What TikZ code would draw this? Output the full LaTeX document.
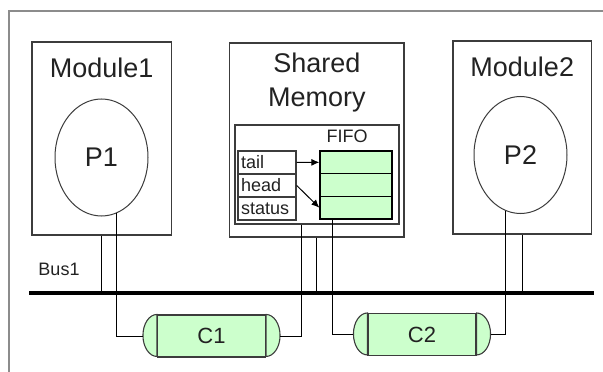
\documentclass[tikz,border=0pt]{standalone}
\usepackage{fontspec}
\setmainfont{Liberation Sans}
\usetikzlibrary{arrows.meta,shapes.geometric}
\definecolor{fifogreen}{HTML}{CCFFCC}
\definecolor{boxgray}{HTML}{3C3C3C}
\definecolor{framegray}{HTML}{8C8C8C}
\definecolor{textgray}{HTML}{222222}

\begin{document}
\begin{tikzpicture}[
    x=1pt, y=-1pt,
    text=textgray,
    module node/.style={rectangle,draw=boxgray,line width=1.1pt,fill=white,inner sep=0pt},
    title node/.style={inner sep=0pt,font=\fontsize{27}{34}\selectfont,align=center},
    process node/.style={ellipse,draw=boxgray,line width=1pt,minimum width=93pt,minimum height=117pt,
      inner sep=0pt,font=\fontsize{27}{30}\selectfont},
    pointer node/.style={rectangle,draw=boxgray,line width=1.4pt,minimum width=58pt,minimum height=23pt,
      inner sep=2pt,text width=52pt,align=left,font=\fontsize{18}{20}\selectfont},
    cell node/.style={rectangle,draw=black,line width=1.3pt,fill=fifogreen,minimum width=72pt,
      minimum height=22.7pt,inner sep=0pt},
    channel node/.style={rectangle,draw=boxgray,line width=1.1pt,fill=fifogreen,minimum width=108pt,
      minimum height=42pt,inner sep=0pt,font=\fontsize{22}{24}\selectfont},
    channel end/.style={draw=boxgray,line width=1.1pt,fill=fifogreen},
    wire/.style={draw=black,line width=1pt},
    ptr/.style={draw=black,line width=1pt,-{Latex[length=8pt,width=7pt]}},
    bus line/.style={draw=black,line width=3.5pt}]

  \useasboundingbox (0,0) rectangle (603,372);
  \draw[framegray,line width=2pt] (8.5,372) -- (8.5,11) -- (603,11);

  % modules and shared memory
  \node[module node,minimum width=139.5pt,minimum height=193pt] (mod1) at (101.75,138.5) {};
  \node[module node,minimum width=174.4pt,minimum height=194pt] (shm) at (316.8,140) {};
  \node[module node,minimum width=138.5pt,minimum height=193pt] (mod2) at (522.25,137.5) {};
  \node[title node] (mod1title) at (101.75,68) {Module1};
  \node[title node] (shmtitle) at (316.8,83) {Shared\\Memory};
  \node[title node] (mod2title) at (522.25,67) {Module2};

  \node[process node] (p1) at (101.5,157.5) {P1};
  \node[process node] (p2) at (520.5,155) {P2};

  % fifo inside the shared memory
  \node[module node,minimum width=164pt,minimum height=99pt] (fifo) at (317,174.5) {};
  \node[inner sep=0pt,font=\fontsize{18}{20}\selectfont] (fifotitle) at (347,136) {FIFO};
  \node[pointer node] (tail) at (267,162.5) {tail};
  \node[pointer node] (head) at (267,185.5) {head};
  \node[pointer node] (status) at (267,208.5) {status};
  \node[cell node] (q1) at (356,162.3) {};
  \node[cell node] (q2) at (356,185) {};
  \node[cell node] (q3) at (356,207.7) {};
  \draw[ptr] (tail.east) -- (q1.west);
  \draw[ptr] (head.east) -- (q3.west);

  % bus
  \coordinate (busw) at (29,293);
  \coordinate (buse) at (594,293);
  \node[inner sep=0pt,font=\fontsize{18}{20}\selectfont] (bustitle) at (59,269) {Bus1};

  % channels
  \node[channel node] (c1) at (211.5,336) {C1};
  \node[channel node] (c2) at (422,334.5) {C2};
  \foreach \c in {c1,c2} {
    \draw[channel end] (\c.north west) arc[start angle=90,end angle=270,x radius=14pt,y radius=21pt] -- cycle;
    \draw[channel end] (\c.north east) arc[start angle=90,end angle=-90,x radius=14pt,y radius=21pt] -- cycle;
    \coordinate (\c w) at ([xshift=-14pt]\c.west);
    \coordinate (\c e) at ([xshift=14pt]\c.east);
  }

  % connections
  \draw[wire] (mod1.south) -- (mod1.south |- busw);
  \draw[wire] (shm.south) -- (shm.south |- busw);
  \draw[wire] (mod2.south) -- (mod2.south |- busw);
  \draw[wire] (p1.-75) |- (c1w);
  \draw[wire] ([xshift=-16pt]fifo.south) |- (c1e);
  \draw[wire] ([xshift=13pt]q3.south west) |- (c2w);
  \draw[wire] (p2.-105) |- (c2e);
  \draw[bus line] (busw) -- (buse);
\end{tikzpicture}
\end{document}
